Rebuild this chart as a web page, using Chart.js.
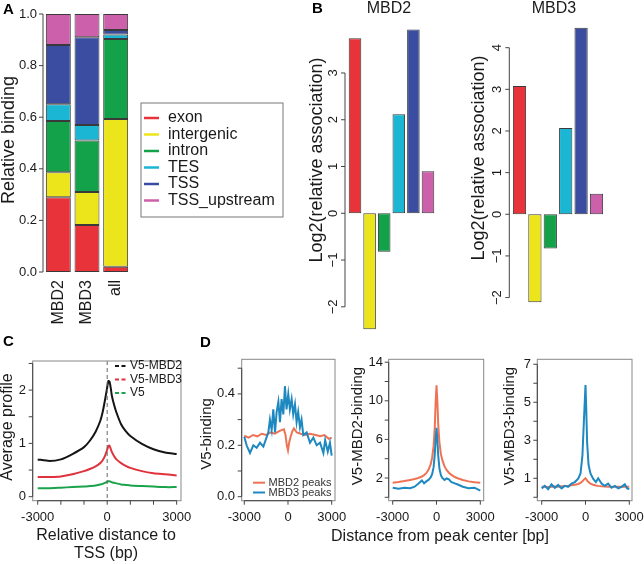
<!DOCTYPE html>
<html>
<head>
<meta charset="utf-8">
<script src="https://cdn.jsdelivr.net/npm/chart.js@4"></script>
<style>
  body { margin: 0; background: #fff; }
  canvas { position: absolute; left: 0; top: 0; }
</style>
</head>
<body>
<canvas id="panelA" width="644" height="564"></canvas>
<canvas id="panelB2" width="644" height="564"></canvas>
<canvas id="panelB3" width="644" height="564"></canvas>
<canvas id="panelC" width="644" height="564"></canvas>
<canvas id="panelD1" width="644" height="564"></canvas>
<canvas id="panelD2" width="644" height="564"></canvas>
<canvas id="panelD3" width="644" height="564"></canvas>
<script>
// ----- data -----
// A: relative binding per genomic region
const peakSets = ['MBD2', 'MBD3', 'all'];
const regionNames = ['exon', 'intergenic', 'intron', 'TES', 'TSS', 'TSS_upstream'];
const exonShare = [0.29, 0.182, 0.02];
const intergenicShare = [0.097, 0.128, 0.573];
const intronShare = [0.198, 0.20, 0.31];
const tesShare = [0.065, 0.06, 0.018];
const tssShare = [0.23, 0.34, 0.017];
const upstreamShare = [0.12, 0.09, 0.062];
const shareTicks = [0, 0.2, 0.4, 0.6, 0.8, 1.0];
const shareTickLabels = ['0.0', '0.2', '0.4', '0.6', '0.8', '1.0'];

// B: log2(relative association)
const mbd2Assoc = [3.74, -2.48, -0.82, 2.12, 3.93, 0.90];
const mbd3Assoc = [3.08, -2.11, -0.82, 2.07, 4.48, 0.49];
const mbd2AssocTicks = [-2, -1, 0, 1, 2, 3];
const mbd2AssocLabels = ['\u22122', '\u22121', '0', '1', '2', '3'];
const mbd3AssocTicks = [-2, -1, 0, 1, 2, 3, 4];
const mbd3AssocLabels = ['\u22122', '\u22121', '0', '1', '2', '3', '4'];

// C: average profile around TSS
const cSeries = ['V5-MBD2', 'V5-MBD3', 'V5'];
const cDistance = [-3000, -2500, -2000, -1500, -1000, -750, -500, -300, -200, -100,
  0, 50, 100, 150, 200, 300, 400, 600, 800, 1000, 1500, 2000, 2500, 3000];
const cMbd2Profile = [0.70, 0.67, 0.70, 0.80, 0.93, 1.05, 1.22, 1.42, 1.58, 1.80,
  2.05, 2.17, 2.16, 2.05, 1.90, 1.72, 1.58, 1.36, 1.23, 1.14, 0.99, 0.89, 0.83, 0.80];
const cMbd3Profile = [0.37, 0.37, 0.38, 0.42, 0.48, 0.52, 0.57, 0.63, 0.68, 0.76,
  0.88, 0.95, 0.96, 0.90, 0.84, 0.76, 0.70, 0.63, 0.58, 0.54, 0.48, 0.44, 0.42, 0.40];
const cV5Profile = [0.16, 0.16, 0.17, 0.18, 0.19, 0.20, 0.21, 0.23, 0.24, 0.26,
  0.28, 0.29, 0.29, 0.28, 0.27, 0.26, 0.25, 0.23, 0.22, 0.21, 0.20, 0.19, 0.18, 0.18];
const cTicksX = [-3000, -2000, -1000, 0, 1000, 2000, 3000];
const cTickLabelsX = ['-3000', '', '', '0', '', '', '3000'];
const cTicksY = [0, 0.5, 1, 1.5, 2, 2.5];
const cTickLabelsY = ['0', '', '1', '', '2', ''];

// D: binding around peak centers
const dSeries = ['MBD2 peaks', 'MBD3 peaks'];
const dTicksX = [-3000, 0, 3000];
const dTickLabelsX = ['-3000', '0', '3000'];

const d1Mbd2Distance = [-3000, -2700, -2400, -2100, -1800, -1500, -1200, -900, -600, -400,
  -280, -170, -80, 0, 80, 180, 300, 410, 600, 870, 1200, 1500, 1900, 2200, 2500, 2800, 3000];
const d1Mbd2Signal = [0.237, 0.23, 0.24, 0.235, 0.245, 0.24, 0.25, 0.245, 0.255, 0.26,
  0.262, 0.24, 0.20, 0.18, 0.21, 0.233, 0.255, 0.266, 0.25, 0.245, 0.24, 0.245, 0.24, 0.235, 0.24, 0.225, 0.23];
const d1Mbd3Distance = [-3000, -2840, -2610, -2380, -2150, -1920, -1690, -1460, -1350, -1240,
  -1120, -1010, -890, -780, -660, -550, -440, -320, -210, -100, 20, 130, 250, 360, 480, 590, 700,
  820, 930, 1050, 1280, 1510, 1740, 1970, 2200, 2430, 2550, 2730, 2880, 3000];
const d1Mbd3Signal = [0.233, 0.20, 0.17, 0.20, 0.19, 0.21, 0.195, 0.233, 0.25, 0.30,
  0.26, 0.34, 0.25, 0.33, 0.37, 0.29, 0.38, 0.32, 0.43, 0.34, 0.40, 0.34, 0.38, 0.32, 0.36, 0.29, 0.33,
  0.27, 0.30, 0.24, 0.25, 0.21, 0.23, 0.20, 0.21, 0.17, 0.22, 0.175, 0.21, 0.16];
const d1TicksY = [0, 0.1, 0.2, 0.3, 0.4, 0.5];
const d1TickLabelsY = ['0.0', '', '0.2', '', '0.4', ''];

const d2Distance = [-3000, -2600, -2200, -1800, -1500, -1250, -1000, -850, -700, -550,
  -400, -300, -200, -120, -60, 0, 60, 120, 200, 300, 400, 550, 700, 850, 1000, 1250, 1500, 1800, 2200, 2600, 3000];
const d2Mbd2Signal = [1.5, 1.58, 1.68, 1.8, 1.9, 2.0, 2.15, 2.3, 2.5, 2.85,
  3.4, 4.1, 5.3, 7.2, 9.8, 11.6, 9.9, 7.5, 5.7, 4.5, 3.85, 3.2, 2.8, 2.55, 2.35, 2.1, 1.95, 1.8, 1.65, 1.57, 1.52];
const d2Mbd3Signal = [1.0, 0.9, 1.0, 0.95, 1.1, 1.4, 1.75, 1.45, 1.65, 1.8,
  2.05, 2.4, 3.1, 4.4, 6.0, 7.2, 5.9, 4.3, 3.0, 2.3, 2.0, 1.8, 1.95, 1.85, 1.6, 1.45, 1.3, 1.1, 0.95, 1.0, 0.7];
const d2TicksY = [0, 2, 4, 6, 8, 10, 12, 14];
const d2TickLabelsY = ['', '2', '', '6', '', '10', '', '14'];

const d3Distance = [-3000, -2790, -2560, -2330, -2100, -1870, -1640, -1420, -1190, -960,
  -730, -500, -340, -210, -110, 0, 50, 110, 210, 340, 520, 710, 870, 1100, 1320, 1550, 1780, 2010, 2240, 2470, 2690, 2850, 3000];
const d3Mbd2Signal = [0.55, 0.56, 0.54, 0.55, 0.57, 0.56, 0.58, 0.6, 0.6, 0.63,
  0.66, 0.7, 0.76, 0.84, 0.93, 1.0, 0.95, 0.88, 0.8, 0.72, 0.66, 0.62, 0.6, 0.58, 0.57, 0.56, 0.56, 0.55, 0.55, 0.56, 0.55, 0.55, 0.55];
const d3Mbd3Signal = [0.47, 0.6, 0.42, 0.68, 0.5, 0.65, 0.47, 0.6, 0.55, 0.72,
  0.8, 0.98, 1.25, 2.2, 4.0, 5.9, 4.7, 2.9, 1.7, 1.25, 0.98, 0.8, 1.0, 0.72, 0.6, 0.72, 0.5, 0.6, 0.47, 0.55, 0.68, 0.47, 0.43];
const d3TicksY = [0, 1, 2, 3, 4, 5, 6, 7];
const d3TickLabelsY = ['', '1', '', '3', '', '5', '', '7'];

// ----- styles -----
const W = 644, H = 564;
const regionColors = ['#E8333B', '#EDE51B', '#13A14A', '#1BB6D3', '#3A4DA0', '#CD60AA'];
const cColors = ['#151515', '#E0323C', '#1BA34B'];
const dColors = ['#EE7355', '#1E88C0'];
const font = (size, bold) => `${bold ? 'bold ' : ''}${size}px "Liberation Sans", Arial, sans-serif`;

function padFor(l, t, r, b) {
  return { left: l, top: t, right: W - r, bottom: H - b };
}

function label(ctx, t) {
  ctx.save();
  ctx.font = t.font;
  ctx.fillStyle = t.color || '#1a1a1a';
  ctx.textAlign = t.align || 'center';
  ctx.textBaseline = 'middle';
  ctx.translate(t.x, t.y);
  if (t.rot) ctx.rotate(-Math.PI / 2);
  ctx.fillText(t.text, 0, 0);
  ctx.restore();
}

function yAxis(chart, a) {
  const ctx = chart.ctx, s = chart.scales.y;
  const ps = a.ticks.map(v => s.getPixelForValue(v));
  ctx.strokeStyle = '#444';
  ctx.lineWidth = 1;
  ctx.beginPath();
  ctx.moveTo(a.at, ps[0]);
  ctx.lineTo(a.at, ps[ps.length - 1]);
  ps.forEach(p => { ctx.moveTo(a.at, p); ctx.lineTo(a.at - 4, p); });
  ctx.stroke();
  a.labels.forEach((text, i) => {
    if (text) label(ctx, { text, x: a.labelAt, y: ps[i], font: a.font, align: a.rot ? 'center' : 'right', rot: a.rot });
  });
}

function xAxis(chart, a) {
  const ctx = chart.ctx, s = chart.scales.x;
  let ps;
  if (a.ticks) {
    ps = a.ticks.map(v => s.getPixelForValue(v));
    ctx.strokeStyle = '#444';
    ctx.lineWidth = 1;
    ctx.beginPath();
    ctx.moveTo(ps[0], a.at);
    ctx.lineTo(ps[ps.length - 1], a.at);
    ps.forEach(p => { ctx.moveTo(p, a.at); ctx.lineTo(p, a.at + 4); });
    ctx.stroke();
  } else {
    // category scale: one label per bar
    ps = a.labels.map((_, i) => s.getPixelForValue(i));
  }
  a.labels.forEach((text, i) => {
    if (text) label(ctx, { text, x: ps[i], y: a.labelAt, font: a.font, align: a.rot ? 'right' : 'center', rot: a.rot });
  });
}

function drawKey(chart, k) {
  const ctx = chart.ctx;
  if (k.frame) {
    ctx.strokeStyle = '#777';
    ctx.lineWidth = 1;
    ctx.strokeRect(k.frame[0], k.frame[1], k.frame[2] - k.frame[0], k.frame[3] - k.frame[1]);
  }
  chart.data.datasets.forEach((ds, i) => {
    const y = k.y0 + i * k.step;
    ctx.save();
    ctx.strokeStyle = k.fill ? ds.backgroundColor : ds.borderColor;
    ctx.lineWidth = k.width;
    if (k.dash) ctx.setLineDash(k.dash);
    ctx.beginPath();
    ctx.moveTo(k.x1, y);
    ctx.lineTo(k.x2, y);
    ctx.stroke();
    ctx.restore();
    label(ctx, { text: ds.label, x: k.textX, y, font: k.font, align: 'left', color: k.color });
  });
}

// R-style axes, box, key and titles drawn from the chart's own scales
function rStyle(o) {
  return {
    id: 'rStyle',
    afterDatasetsDraw(chart) {
      const ctx = chart.ctx, ca = chart.chartArea;
      ctx.save();
      if (o.vline !== undefined) {
        const x = chart.scales.x.getPixelForValue(o.vline);
        ctx.strokeStyle = '#666';
        ctx.lineWidth = 1;
        ctx.setLineDash([4, 3]);
        ctx.beginPath();
        ctx.moveTo(x, ca.top);
        ctx.lineTo(x, ca.bottom);
        ctx.stroke();
        ctx.setLineDash([]);
      }
      if (o.box) {
        ctx.strokeStyle = '#888';
        ctx.lineWidth = 1;
        ctx.strokeRect(ca.left, ca.top, ca.right - ca.left, ca.bottom - ca.top);
      }
      if (o.y) yAxis(chart, o.y);
      if (o.x) xAxis(chart, o.x);
      if (o.key) drawKey(chart, o.key);
      (o.texts || []).forEach(t => label(ctx, t));
      ctx.restore();
    }
  };
}

function baseOptions(padding, x, y) {
  return {
    responsive: false,
    animation: false,
    events: [],
    layout: { padding },
    scales: { x: Object.assign({ display: false }, x), y: Object.assign({ display: false }, y) },
    plugins: { legend: { display: false }, tooltip: { enabled: false } }
  };
}

const points = (xs, ys) => xs.map((x, i) => ({ x, y: ys[i] }));

// ----- panel A -----
const regionShares = [exonShare, intergenicShare, intronShare, tesShare, tssShare, upstreamShare];
new Chart(document.getElementById('panelA'), {
  type: 'bar',
  data: {
    labels: peakSets,
    datasets: regionNames.map((name, i) => ({
      label: name,
      data: regionShares[i],
      backgroundColor: regionColors[i],
      borderColor: '#3a3a3a',
      borderWidth: 1,
      borderSkipped: false,
      barPercentage: 0.87,
      categoryPercentage: 1
    }))
  },
  options: baseOptions(padFor(44, 14, 130, 272), { stacked: true }, { stacked: true, min: 0, max: 1 }),
  plugins: [rStyle({
    y: { at: 43, ticks: shareTicks, labels: shareTickLabels, labelAt: 37, font: font(13) },
    x: { labels: peakSets, labelAt: 280, font: font(16), rot: true },
    key: { frame: [141, 103, 283, 217], y0: 118, step: 16.5, x1: 144, x2: 159, textX: 168, width: 2.5, fill: true, font: font(16) },
    texts: [
      { text: 'A', x: 3, y: 10, font: font(15, true), align: 'left', color: '#000' },
      { text: 'Relative binding', x: 9, y: 140, font: font(18), rot: true }
    ]
  })]
});

// ----- panel B -----
function assocChart(id, values, area, range, axis, title) {
  new Chart(document.getElementById(id), {
    type: 'bar',
    data: {
      labels: regionNames,
      datasets: [{
        label: title.name,
        data: values,
        backgroundColor: regionColors,
        borderColor: '#3a3a3a',
        borderWidth: 1,
        borderSkipped: false,
        barPercentage: 0.86,
        categoryPercentage: 1
      }]
    },
    options: baseOptions(padFor(area[0], area[1], area[2], area[3]), {}, { min: range[0], max: range[1] }),
    plugins: [rStyle({
      y: axis,
      texts: title.texts
    })]
  });
}

assocChart('panelB2', mbd2Assoc, [347.7, 26.2, 435.3, 330.2], [-2.5, 4.0],
  { at: 345, ticks: mbd2AssocTicks, labels: mbd2AssocLabels, labelAt: 333, font: font(13), rot: true },
  { name: 'MBD2', texts: [
    { text: 'B', x: 312, y: 9, font: font(15, true), align: 'left', color: '#000' },
    { text: 'MBD2', x: 389, y: 9, font: font(16) },
    { text: 'Log2(relative association)', x: 317, y: 160, font: font(18), rot: true }
  ] });

assocChart('panelB3', mbd3Assoc, [511.8, 22.7, 604.2, 318.4], [-2.5, 4.6],
  { at: 509.3, ticks: mbd3AssocTicks, labels: mbd3AssocLabels, labelAt: 497, font: font(13), rot: true },
  { name: 'MBD3', texts: [
    { text: 'MBD3', x: 554, y: 9, font: font(16) },
    { text: 'Log2(relative association)', x: 479, y: 158, font: font(18), rot: true }
  ] });

// ----- panel C -----
const cProfiles = [cMbd2Profile, cMbd3Profile, cV5Profile];
new Chart(document.getElementById('panelC'), {
  type: 'line',
  data: {
    datasets: cSeries.map((name, i) => ({
      label: name,
      data: points(cDistance, cProfiles[i]),
      borderColor: cColors[i],
      borderWidth: 2,
      pointRadius: 0,
      tension: 0.2
    }))
  },
  options: baseOptions(padFor(32.7, 361, 181, 500.7), { type: 'linear', min: -3216, max: 3187 }, { min: -0.075, max: 2.546 }),
  plugins: [rStyle({
    box: true,
    vline: 0,
    y: { at: 32.7, ticks: cTicksY, labels: cTickLabelsY, labelAt: 26, font: font(13) },
    x: { at: 500.7, ticks: cTicksX, labels: cTickLabelsX, labelAt: 517, font: font(13) },
    key: { y0: 366, step: 13.5, x1: 115, x2: 126, textX: 130, width: 2, dash: [4, 2.5], font: font(12), color: '#1a1a1a' },
    texts: [
      { text: 'C', x: 3, y: 342, font: font(15, true), align: 'left', color: '#000' },
      { text: 'Average profile', x: 8, y: 427, font: font(16), rot: true },
      { text: 'Relative distance to', x: 106, y: 536, font: font(16) },
      { text: 'TSS (bp)', x: 106, y: 554, font: font(16) }
    ]
  })]
});

// ----- panel D -----
function peakChart(id, sets, area, xr, yr, axisY, extra) {
  new Chart(document.getElementById(id), {
    type: 'line',
    data: {
      datasets: dSeries.map((name, i) => ({
        label: name,
        data: points(sets[i][0], sets[i][1]),
        borderColor: dColors[i],
        borderWidth: 2,
        pointRadius: 0,
        order: 1 - i
      }))
    },
    options: baseOptions(padFor(area[0], area[1], area[2], area[3]), { type: 'linear', min: xr[0], max: xr[1] }, { min: yr[0], max: yr[1] }),
    plugins: [rStyle(Object.assign({
      box: true,
      y: axisY,
      x: { at: area[3], ticks: dTicksX, labels: dTickLabelsX, labelAt: 517, font: font(13) }
    }, extra))]
  });
}

peakChart('panelD1', [[d1Mbd2Distance, d1Mbd2Signal], [d1Mbd3Distance, d1Mbd3Signal]],
  [241.7, 359.3, 335, 500.7], [-3178, 3227], [-0.0156, 0.5346],
  { at: 241.7, ticks: d1TicksY, labels: d1TickLabelsY, labelAt: 235, font: font(13) },
  {
    key: { y0: 482.7, step: 9.8, x1: 253, x2: 265, textX: 268.5, width: 2, font: font(11), color: '#333' },
    texts: [
      { text: 'D', x: 200, y: 343, font: font(15, true), align: 'left', color: '#000' },
      { text: 'V5-binding', x: 207, y: 434, font: font(15), rot: true },
      { text: 'Distance from peak center [bp]', x: 440, y: 537, font: font(16) }
    ]
  });

peakChart('panelD2', [[d2Distance, d2Mbd2Signal], [d2Distance, d2Mbd3Signal]],
  [388.7, 359.3, 483.7, 500.7], [-3274, 3233], [-0.352, 14.3],
  { at: 388.7, ticks: d2TicksY, labels: d2TickLabelsY, labelAt: 383, font: font(13) },
  { texts: [{ text: 'V5-MBD2-binding', x: 358, y: 426, font: font(15), rot: true }] });

peakChart('panelD3', [[d3Distance, d3Mbd2Signal], [d3Distance, d3Mbd3Signal]],
  [537.3, 359.3, 632, 500.7], [-3301, 3185], [-0.18, 7.26],
  { at: 537.3, ticks: d3TicksY, labels: d3TickLabelsY, labelAt: 531, font: font(13) },
  { texts: [{ text: 'V5-MBD3-binding', x: 510, y: 426, font: font(15), rot: true }] });
</script>
</body>
</html>
